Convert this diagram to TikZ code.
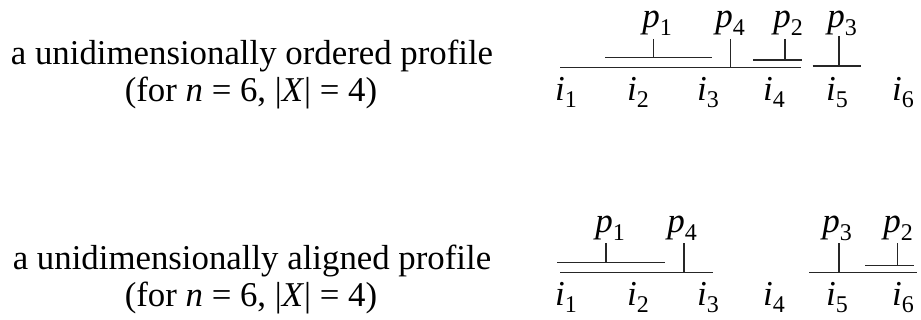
\documentclass[tikz,border=0pt]{standalone}
\usepackage{fontspec}
\setmainfont{Liberation Serif}
\newcommand\mylbl[2]{\textit{#1}\raisebox{-0.21em}{\fontsize{24}{24}\selectfont #2}}
\tikzset{
  txt/.style={anchor=base,inner sep=0pt,font=\fontsize{34.8}{36}\selectfont},
  lbl/.style={anchor=base,inner sep=0pt,font=\fontsize{35}{36}\selectfont},
  seg/.style={line width=1.1pt,black!85}
}
\begin{document}
\begin{tikzpicture}[x=1pt,y=-1pt]
\useasboundingbox (0,0) rectangle (921,320);
% ---- top: ordered
\node[txt] (t1) at (252,65) {a unidimensionally ordered profile};
\node[txt] (t2) at (251,101.2) {(for \textit{n} = 6, |\textit{X}| = 4)};
\draw[seg] (560,67.7) -- (801,67.7);
\draw[seg] (605,57.7) -- (711.7,57.7);
\draw[seg] (653.3,39) -- (653.3,57.7);
\draw[seg] (730.7,39) -- (730.7,67.7);
\draw[seg] (753.3,60) -- (801.7,60);
\draw[seg] (785,39) -- (785,60);
\draw[seg] (812.7,66) -- (861,66);
\draw[seg] (839,36) -- (839,66);
\node[lbl] (ap1) at (657,28) {\mylbl{p}{1}};
\node[lbl] (ap4) at (730,28) {\mylbl{p}{4}};
\node[lbl] (ap2) at (788,28) {\mylbl{p}{2}};
\node[lbl] (ap3) at (842,28) {\mylbl{p}{3}};
\node[lbl] (ai1) at (566,100.5) {\mylbl{i}{1}};
\node[lbl] (ai2) at (638,100.5) {\mylbl{i}{2}};
\node[lbl] (ai3) at (708,100.5) {\mylbl{i}{3}};
\node[lbl] (ai4) at (774,100.5) {\mylbl{i}{4}};
\node[lbl] (ai5) at (837,100.5) {\mylbl{i}{5}};
\node[lbl] (ai6) at (903,100.5) {\mylbl{i}{6}};
% ---- bottom: aligned
\node[txt] (b1) at (252,270) {a unidimensionally aligned profile};
\node[txt] (b2) at (251,306.2) {(for \textit{n} = 6, |\textit{X}| = 4)};
\draw[seg] (557.3,262.3) -- (665,262.3);
\draw[seg] (606,243.3) -- (606,262.3);
\draw[seg] (560,272.7) -- (712.7,272.7);
\draw[seg] (684,243.3) -- (684,272.7);
\draw[seg] (809.3,272.7) -- (916.7,272.7);
\draw[seg] (839,243.3) -- (839,272.7);
\draw[seg] (865,265.3) -- (914,265.3);
\draw[seg] (897.3,243.3) -- (897.3,265.3);
\node[lbl] (bp1) at (610,233) {\mylbl{p}{1}};
\node[lbl] (bp4) at (682,233) {\mylbl{p}{4}};
\node[lbl] (bp3) at (837,233) {\mylbl{p}{3}};
\node[lbl] (bp2) at (898,233) {\mylbl{p}{2}};
\node[lbl] (bi1) at (566,305.5) {\mylbl{i}{1}};
\node[lbl] (bi2) at (638,305.5) {\mylbl{i}{2}};
\node[lbl] (bi3) at (708,305.5) {\mylbl{i}{3}};
\node[lbl] (bi4) at (774,305.5) {\mylbl{i}{4}};
\node[lbl] (bi5) at (837,305.5) {\mylbl{i}{5}};
\node[lbl] (bi6) at (903,305.5) {\mylbl{i}{6}};
\end{tikzpicture}
\end{document}
